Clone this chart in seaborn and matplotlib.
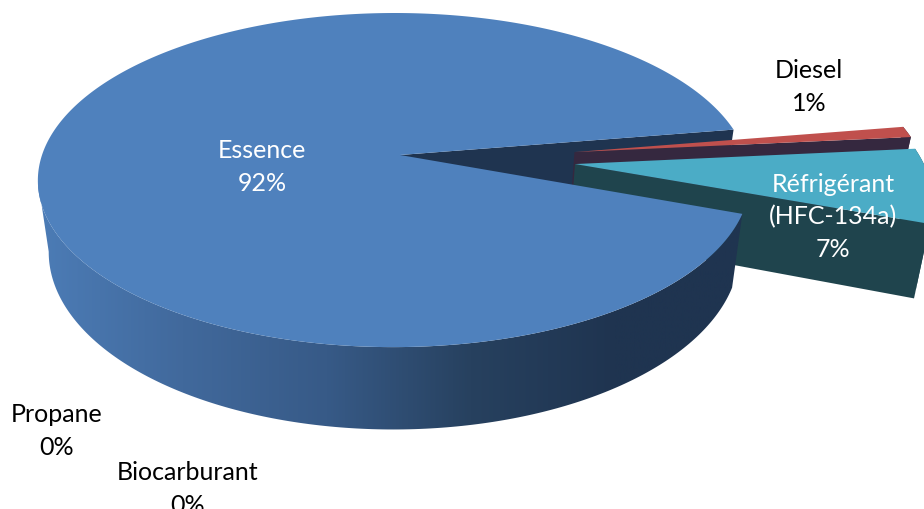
import numpy as np
import matplotlib
matplotlib.use('Agg')
import matplotlib.pyplot as plt
from matplotlib.patches import Polygon
import seaborn as sns

labels = ['Essence', 'Diesel', 'Réfrigérant\n(HFC-134a)', 'Propane', 'Biocarburant']
values = [91.9, 1.05, 7.05, 0, 0]
shown = [92, 1, 7, 0, 0]

# colours of the top faces and of the dark side walls
top_colors = ['#4f81bd', '#c0504d', '#4bacc6']
wall_colors = ['#1f3450', '#35283f', '#1f444d']
essence_wall = ['#4c7cb6', '#41699c', '#375a87', '#27415f', '#1f3450', '#1f3450']

# how far each slice is pulled out, in disc units
pull_x = [0, 0.497, 0.493]
pull_y = [0, 0.018, -0.055]

# where each label sits, and its colour
label_x = [262, 809, 833, 57, 188]
label_y = [167, 87, 217, 431, 489]
label_colors = ['white', 'black', 'white', 'black', 'black']

# perspective of the disc, pixels
cx, cy = 400, 156
rx, ry = 352, 163.3
k = 0.15
depth = 70
shrink = 0.97
rim_shift = 0.017


def project(u, v, down=0.0):
    s = 1 / (1 + k * v)
    x = cx + rx * u * s
    y = cy - ry * v * s
    if down:
        x = cx + (x - cx) * (1 - (1 - shrink) * down)
        y = y + depth * s * down
    return np.column_stack([x, y])


def disc(theta, dx=0, dy=0):
    t = np.radians(theta)
    return np.cos(t) - rim_shift + dx, np.sin(t) + dy


def strip(u, v):
    # a side wall: the top edge, then the same edge pushed down
    return np.vstack([project(u, v), project(u, v, 1)[::-1]])


sns.set_theme(style='white')
plt.rcParams['font.family'] = ['Lato', 'DejaVu Sans']

fig = plt.figure(figsize=(9.24, 5.1), dpi=100)
ax = fig.add_axes([0, 0, 1, 1])

# pie works out the angles of the slices, then the disc is redrawn in perspective
wedges, _ = ax.pie(values, startangle=-20, counterclock=False)
angles = [(w.theta1, w.theta2) for w in wedges]
for w in wedges:
    w.remove()
ax.set_aspect('auto')

ess1, ess2 = angles[0]

# cut face of Essence, seen through the gap
u, v = disc(np.array([ess1]))
ax.add_patch(Polygon(strip(np.r_[0, u], np.r_[0, v]), fc=wall_colors[0], ec='none', zorder=1))

# Diesel, then Réfrigérant
for i, z in ((1, 2), (2, 3)):
    t1, t2 = angles[i]
    dx, dy = pull_x[i], pull_y[i]
    arc = np.linspace(t1, t2, 60)
    u, v = disc(arc, dx, dy)
    ax.add_patch(Polygon(strip(np.r_[dx, u[0]], np.r_[dy, v[0]]), fc=wall_colors[i], ec='none', zorder=z))
    ax.add_patch(Polygon(strip(u, v), fc=wall_colors[i], ec='none', zorder=z))
    top = project(np.r_[dx, u], np.r_[dy, v])
    ax.add_patch(Polygon(top, fc=top_colors[i], ec='none', zorder=z))

# front wall of Essence with its shading
left = np.degrees(np.arcsin(-k))
arc = np.linspace(-180 - left, ess2, 200)
u, v = disc(arc)
wall = Polygon(strip(u, v), fc='none', ec='none', zorder=4)
ax.add_patch(wall)
cmap = sns.blend_palette(essence_wall, as_cmap=True)
img = ax.imshow(np.linspace(0, 1, 256).reshape(1, -1), cmap=cmap, aspect='auto',
                extent=(38, 760, 450, 100), zorder=4)
img.set_clip_path(wall)

# top face of Essence
arc = np.linspace(ess1, ess2, 400)
u, v = disc(arc)
top = project(np.r_[0, u], np.r_[0, v])
ax.add_patch(Polygon(top, fc=top_colors[0], ec='none', zorder=5))

for name, val, x, y, col in zip(labels, shown, label_x, label_y, label_colors):
    ax.text(x, y, f'{name}\n{val}%', color=col, fontsize=18, ha='center', va='center',
            linespacing=1.5, zorder=6)

ax.set_xlim(0, 924)
ax.set_ylim(510, 0)
ax.axis('off')
fig.savefig('out.png', dpi=100)
